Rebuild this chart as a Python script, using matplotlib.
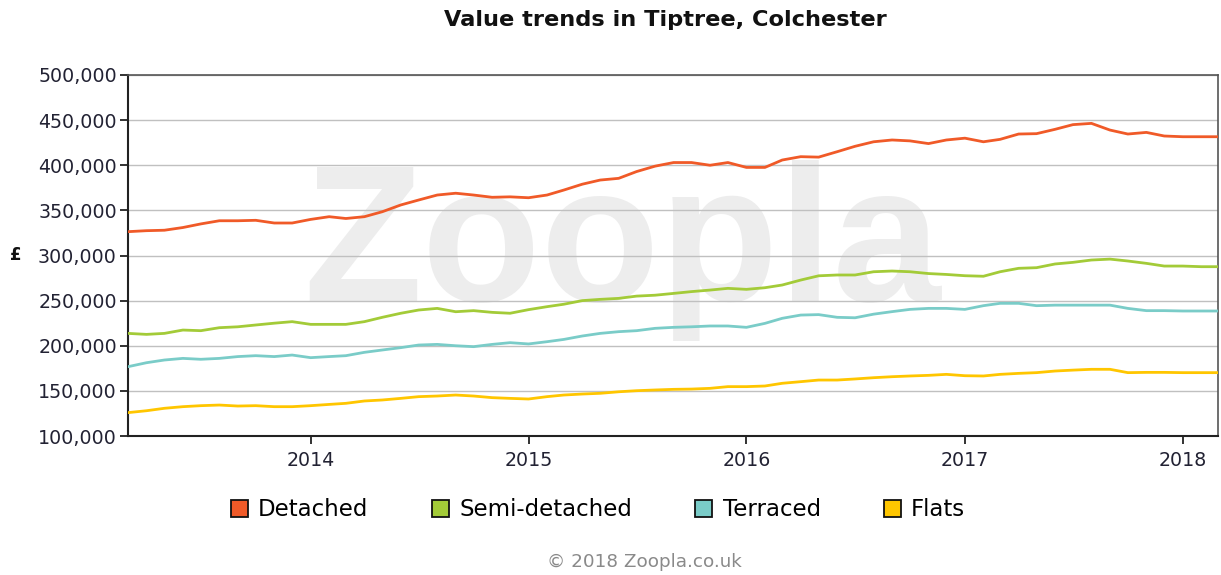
import matplotlib
matplotlib.use("Agg")
import matplotlib.pyplot as plt
import matplotlib.dates as mdates
from matplotlib.patches import Patch
from matplotlib.ticker import FuncFormatter
import pandas as pd

months = pd.date_range("2013-03-01", "2018-03-01", freq="MS")

detached = [326.4, 327.5, 328, 331, 335, 338.5, 338.5, 339, 336, 336,
            340, 343, 341, 343, 348.5, 356, 361.5, 367, 369, 367,
            364.5, 365, 364, 367, 372.5, 379, 383.6, 385.5, 393, 399,
            403, 403, 400, 403, 397.6, 397.6, 405.8, 409.5, 409, 415,
            421, 426, 428, 427, 424, 428, 430, 426, 428.7, 434.6,
            435, 439.8, 445, 446.4, 439, 434.6, 436.4, 432.4, 431.6, 431.6, 431.6]
semi = [213.7, 212.6, 213.7, 217.4, 216.7, 220, 221, 223, 225, 226.7,
        223.7, 223.7, 223.7, 226.7, 231.5, 236, 239.6, 241.4, 237.7, 238.9,
        237, 236, 240, 243.3, 246, 250, 251.4, 252.5, 255, 256,
        258, 260, 261.7, 263.6, 262.5, 264.3, 267.3, 272.8, 277.5, 278.4,
        278.4, 282, 282.8, 282, 280, 279, 277.6, 277, 282, 285.8,
        286.5, 290.6, 292.4, 295, 296, 293.9, 291.3, 288.3, 288.3, 287.6, 287.6]
terraced = [176.8, 181.2, 184.2, 186, 185, 186, 188, 189, 188, 189.7,
            186.8, 188, 189, 192.7, 195.3, 197.9, 200.8, 201.5, 200, 199,
            201.5, 203.4, 202, 204.5, 207, 210.8, 213.7, 215.6, 216.7, 219.3,
            220.4, 221, 221.9, 221.9, 220.4, 224.8, 230.4, 234, 234.5, 231.5,
            231, 235, 237.8, 240.3, 241.4, 241.4, 240.3, 244.4, 247, 247,
            244.4, 245, 245, 245, 245, 241.4, 238.9, 238.9, 238.5, 238.5, 238.5]
flats = [125.9, 128, 130.7, 132.5, 133.6, 134.3, 133.2, 133.6, 132.5, 132.5,
         133.6, 135, 136.2, 138.8, 139.9, 141.7, 143.6, 144.3, 145.4, 144.3,
         142.5, 141.7, 141, 143.6, 145.4, 146.5, 147.3, 149, 150.2, 151,
         151.7, 152, 152.8, 154.7, 154.7, 155.4, 158.4, 160.2, 162, 162,
         163.2, 164.6, 165.7, 166.5, 167.2, 168.3, 166.8, 166.5, 168.3, 169.4,
         170.2, 172, 173, 173.9, 173.9, 170.2, 170.5, 170.5, 170.2, 170.2, 170.2]

series_names = ["Detached", "Semi-detached", "Terraced", "Flats"]
series_values = [detached, semi, terraced, flats]
colors = ["#F05A28", "#A3CB38", "#7ACCC8", "#FFC600"]

plt.rcParams['font.family'] = ['DejaVu Sans']

fig = plt.figure(figsize=(12.21, 5.75), dpi=100)
ax = fig.add_axes([128/1221, 1-436/575, (1218-128)/1221, (436-75)/575])

# watermark
ax.text(0.453, 0.375, "Zoopla", transform=ax.transAxes, fontsize=140,
        fontweight='bold', color='#ededed', ha='center', va='baseline', zorder=0,
        family='Liberation Sans')

for name, vals, c in zip(series_names, series_values, colors):
    ax.plot(months, [v * 1000 for v in vals], color=c, lw=2.0, zorder=3,
            solid_joinstyle='round')

ax.set_ylim(100000, 500000)
ax.set_xlim(pd.Timestamp("2013-03-01"), pd.Timestamp("2018-03-01"))
ax.set_yticks(range(100000, 500001, 50000))
ax.yaxis.set_major_formatter(FuncFormatter(lambda v, p: f"{int(v):,}"))
ax.xaxis.set_major_locator(mdates.YearLocator())
ax.xaxis.set_major_formatter(mdates.DateFormatter("%Y"))
ax.grid(axis='y', color='#c0c0c0', lw=1.0, zorder=1)
ax.set_axisbelow(True)

for s in ['left', 'bottom']:
    ax.spines[s].set_color('#222222')
    ax.spines[s].set_linewidth(1.5)
for s in ['top', 'right']:
    ax.spines[s].set_color('#555555')
    ax.spines[s].set_linewidth(1.2)

ax.tick_params(axis='y', labelsize=13.7, length=6, width=1.3, colors='#222222',
               labelcolor='#222233', pad=2)
ax.tick_params(axis='x', labelsize=13.7, length=6, width=1.3, colors='#222222',
               labelcolor='#222233', pad=5)

fig.text(665/1221, 1-20/575, "Value trends in Tiptree, Colchester", ha='center',
         va='center', fontsize=16.2, fontweight='bold', color='#111111')
fig.text(16/1221, 1-255/575, "£", ha='center', va='center', fontsize=12,
         fontweight='bold', color='#111111')

handles = [Patch(facecolor=c, edgecolor='#111111', lw=1.3) for c in colors]
fig.legend(handles, series_names, loc='center', bbox_to_anchor=(598/1221, 1-510/575),
           ncol=4, frameon=False, fontsize=16.5, handlelength=0.75, handleheight=0.75,
           handletextpad=0.45, columnspacing=2.75)

fig.text(644/1221, 1-562/575, "© 2018 Zoopla.co.uk", ha='center', va='center',
         fontsize=13.2, color='#8a8a8a')

fig.savefig("out.png", dpi=100)
